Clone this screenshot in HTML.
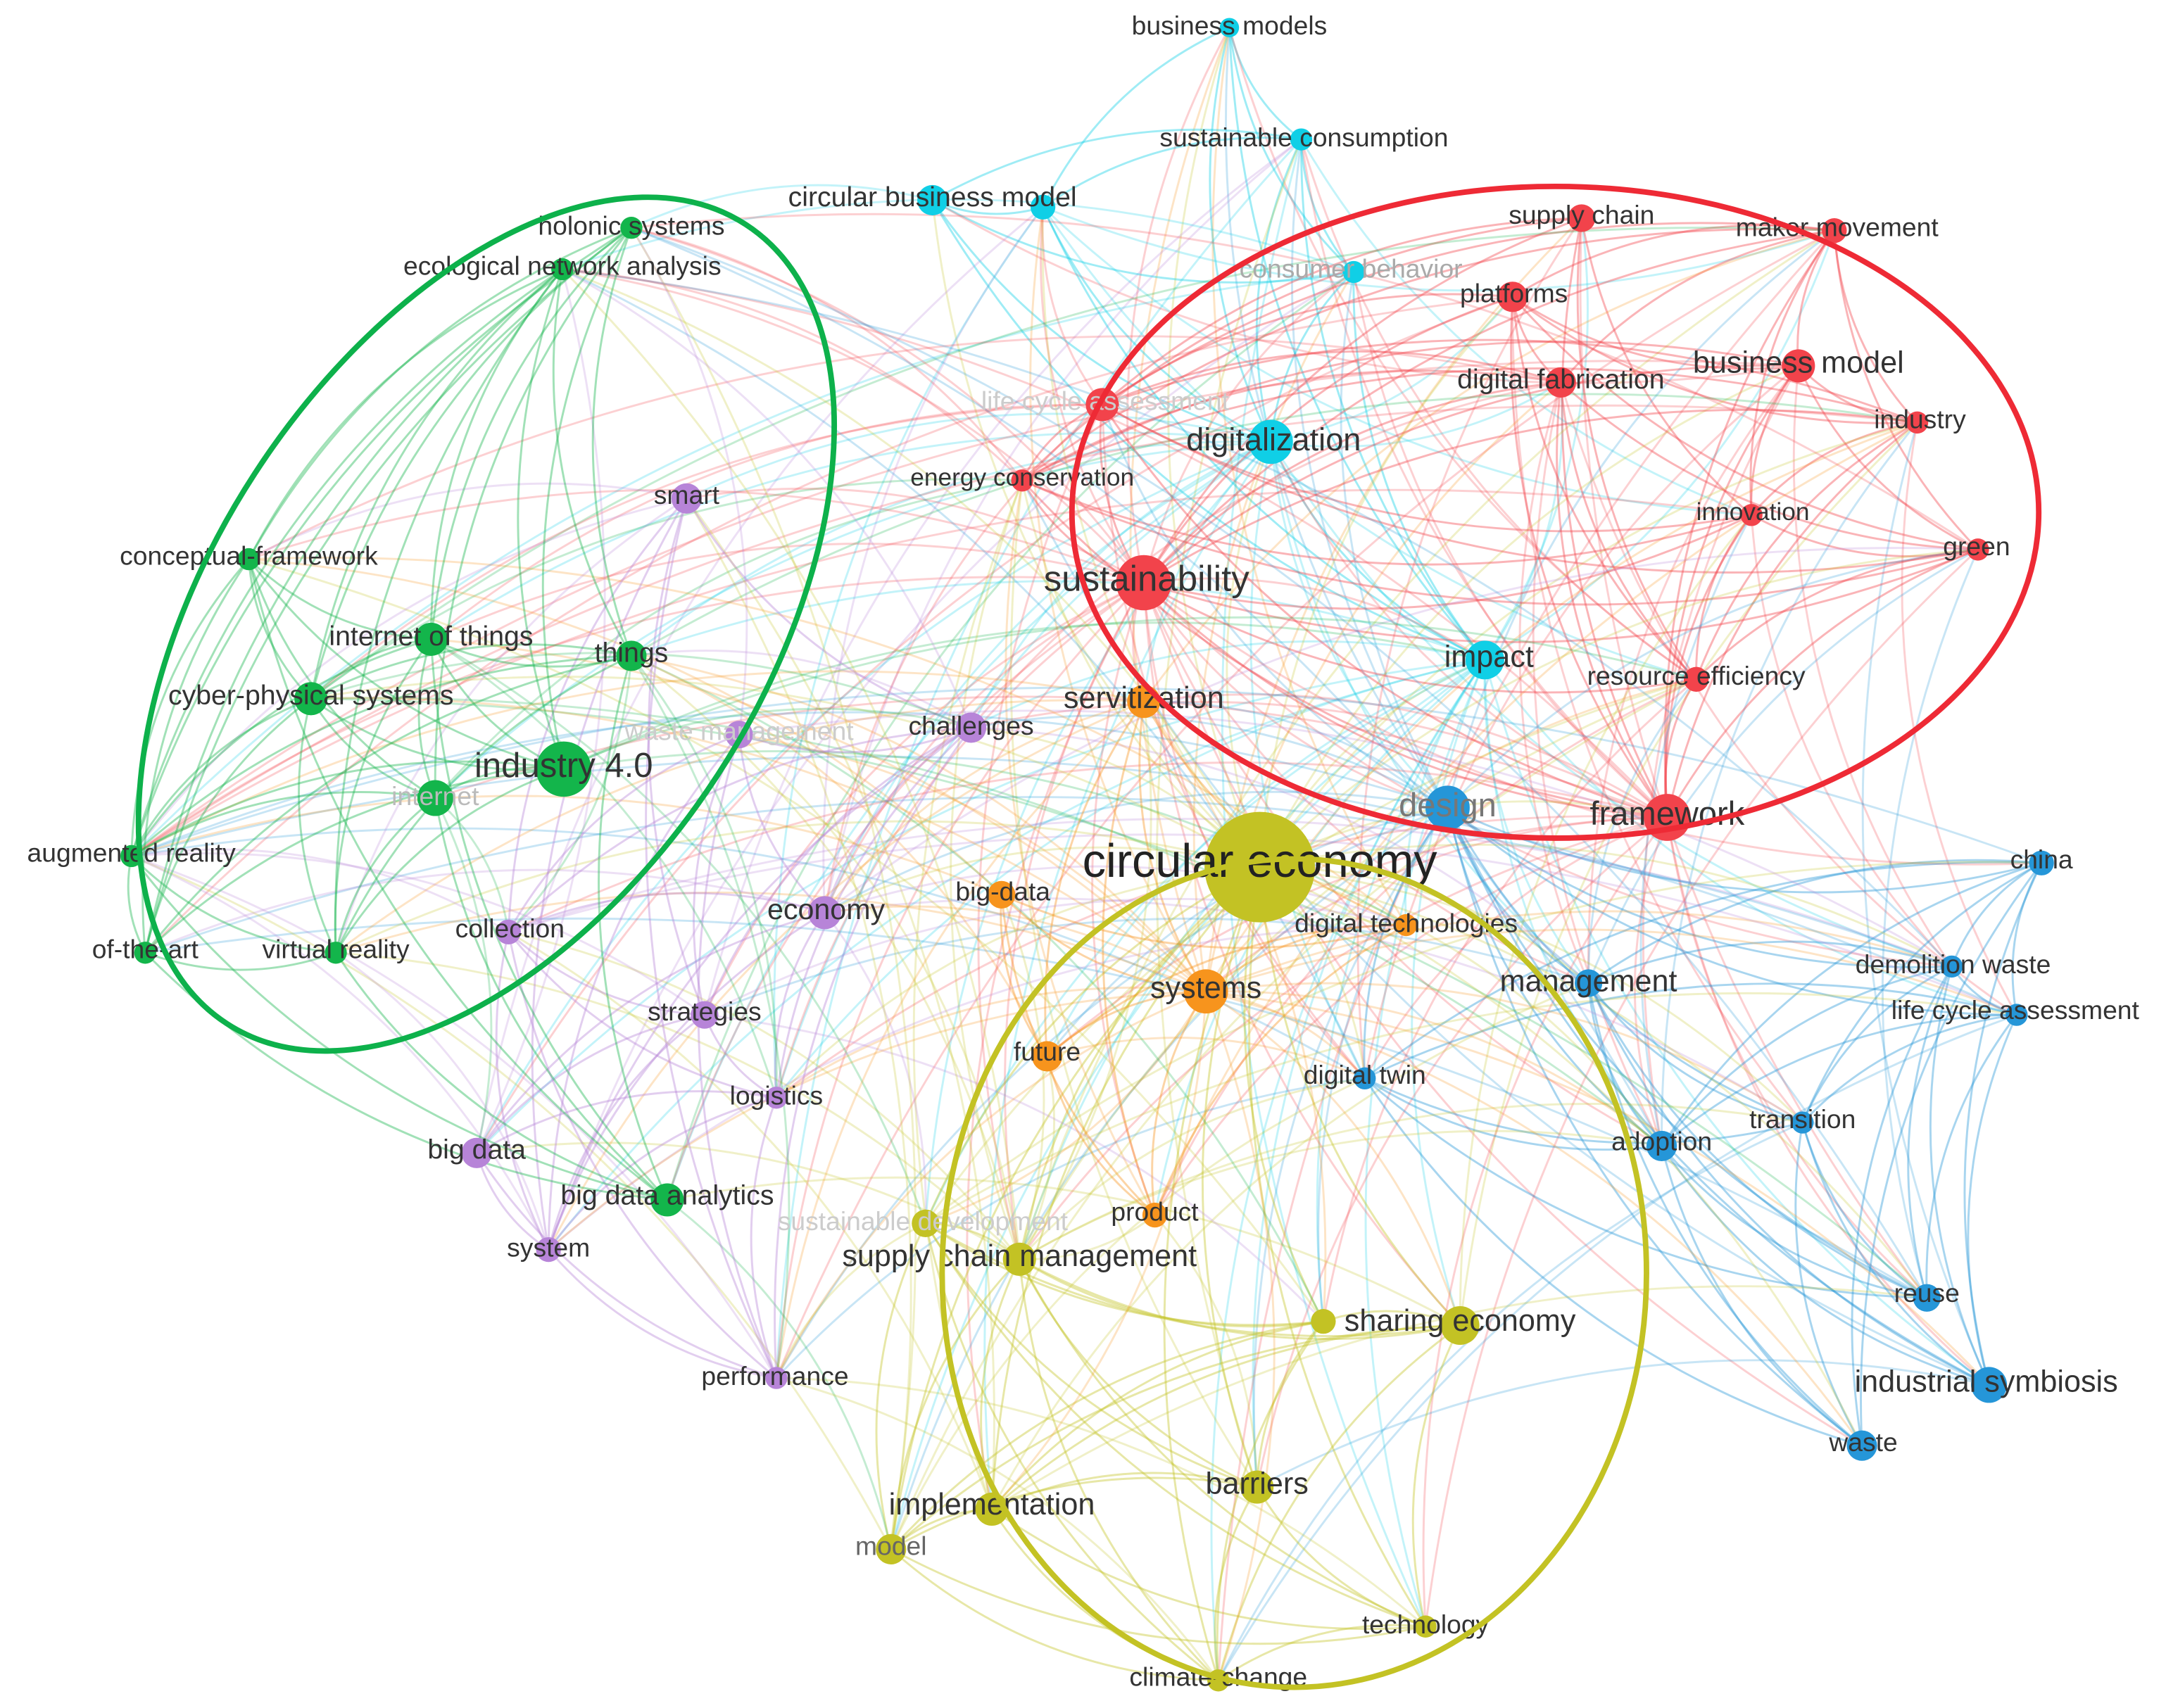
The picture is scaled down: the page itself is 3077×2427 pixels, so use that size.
<!DOCTYPE html>
<html><head><meta charset="utf-8">
<style>
html,body{margin:0;padding:0;background:#fff;}
svg{display:block;}
text{font-family:"Liberation Sans","DejaVu Sans",sans-serif;fill:#333;text-anchor:middle;dominant-baseline:middle;}
</style></head>
<body>
<svg id="s" width="3077" height="2427" viewBox="0 0 1568 1237" xmlns="http://www.w3.org/2000/svg">
<g id="edges" fill="none" stroke-width="1.5"></g>
<g id="nodes"></g>
<g id="labels">
<text x="890" y="20" font-size="19">business models</text>
<text x="944" y="101" font-size="19">sustainable consumption</text>
<text x="675" y="144" font-size="20">circular business model</text>
<text x="978" y="196" font-size="19" style="fill:#aaa">consumer behavior</text>
<text x="922" y="320" font-size="23">digitalization</text>
<text x="1078" y="477" font-size="22">impact</text>
<text x="1145" y="157" font-size="19">supply chain</text>
<text x="1330" y="166" font-size="19">maker movement</text>
<text x="1096" y="214" font-size="19">platforms</text>
<text x="1130" y="276" font-size="20">digital fabrication</text>
<text x="1302" y="264" font-size="22">business model</text>
<text x="1390" y="305" font-size="19">industry</text>
<text x="800" y="292" font-size="19" style="fill:#ccc">life cycle assessment</text>
<text x="740" y="347" font-size="18">energy conservation</text>
<text x="830" y="421" font-size="26">sustainability</text>
<text x="1269" y="372" font-size="18">innovation</text>
<text x="1431" y="397" font-size="19">green</text>
<text x="1228" y="491" font-size="19">resource efficiency</text>
<text x="1207" y="591" font-size="24">framework</text>
<text x="1048" y="585" font-size="24" style="fill:#777">design</text>
<text x="1478" y="624" font-size="19">china</text>
<text x="1414" y="700" font-size="19">demolition waste</text>
<text x="1459" y="733" font-size="19">life cycle assessment</text>
<text x="1150" y="712" font-size="22">management</text>
<text x="988" y="780" font-size="19">digital twin</text>
<text x="1305" y="812" font-size="19">transition</text>
<text x="1203" y="828" font-size="19">adoption</text>
<text x="1395" y="938" font-size="19">reuse</text>
<text x="1438" y="1002" font-size="22">industrial symbiosis</text>
<text x="1349" y="1046" font-size="19">waste</text>
<text x="912" y="626" font-size="34" style="fill:#222">circular economy</text>
<text x="668" y="886" font-size="19" style="fill:#ccc">sustainable development</text>
<text x="738" y="911" font-size="22">supply chain management</text>
<text x="1057" y="958" font-size="22">sharing economy</text>
<text x="910" y="1076" font-size="22">barriers</text>
<text x="718" y="1091" font-size="22">implementation</text>
<text x="645" y="1121" font-size="19" style="fill:#666">model</text>
<text x="1032" y="1178" font-size="19">technology</text>
<text x="882" y="1216" font-size="19">climate-change</text>
<text x="828" y="507" font-size="22">servitization</text>
<text x="726" y="647" font-size="19">big-data</text>
<text x="1018" y="670" font-size="19">digital technologies</text>
<text x="873" y="717" font-size="22">systems</text>
<text x="758" y="763" font-size="19">future</text>
<text x="836" y="879" font-size="19">product</text>
<text x="497" y="360" font-size="19">smart</text>
<text x="535" y="531" font-size="19" style="fill:#ccc">waste management</text>
<text x="703" y="527" font-size="19">challenges</text>
<text x="598" y="660" font-size="21">economy</text>
<text x="369" y="674" font-size="19">collection</text>
<text x="510" y="734" font-size="19">strategies</text>
<text x="562" y="795" font-size="19">logistics</text>
<text x="345" y="834" font-size="20">big data</text>
<text x="397" y="905" font-size="19">system</text>
<text x="561" y="998" font-size="19">performance</text>
<text x="457" y="165" font-size="19">holonic systems</text>
<text x="407" y="194" font-size="19">ecological network analysis</text>
<text x="180" y="404" font-size="19">conceptual-framework</text>
<text x="312" y="462" font-size="20">internet of things</text>
<text x="457" y="474" font-size="20">things</text>
<text x="225" y="505" font-size="20">cyber-physical systems</text>
<text x="408" y="556" font-size="25">industry 4.0</text>
<text x="315" y="578" font-size="19" style="fill:#bbb">internet</text>
<text x="95" y="619" font-size="19">augmented reality</text>
<text x="105" y="689" font-size="19">of-the-art</text>
<text x="243" y="689" font-size="19">virtual reality</text>
<text x="483" y="867" font-size="20">big data analytics</text>
</g>
<g fill="none" stroke-width="4">
<ellipse cx="352" cy="452" rx="200" ry="345" transform="rotate(33 352 452)" stroke="#0db14b"/>
<ellipse cx="1126" cy="371" rx="350" ry="236" stroke="#ee2a35"/>
<ellipse cx="937" cy="922" rx="255" ry="300" stroke="#c3c224"/>
</g>
</svg>
<script>
var C={c:"#10cfe6",r:"#f2434b",b:"#2596d8",y:"#c3c224",o:"#f7941d",p:"#b784d8",g:"#13b54b"};
var N=[
["c",890,20,7],["c",942,101,8],["c",675,145,11],["c",755,150,9],["c",980,197,8],["c",920,320,16],["c",1075,478,14],
["r",1145,158,10],["r",1328,167,9],["r",1095,215,11],["r",1130,277,11],["r",1302,265,12],["r",1388,306,8],["r",798,293,12],["r",740,348,8],["r",828,422,20],["r",1268,373,8],["r",1432,398,8],["r",1228,492,9],["r",1207,592,17],
["b",1048,585,16],["b",1478,625,9],["b",1413,700,8],["b",1460,735,8],["b",1150,712,10],["b",988,781,8],["b",1305,813,8],["b",1203,830,11],["b",1395,940,10],["b",1440,1003,13],["b",1348,1047,11],
["y",912,628,40],["y",738,912,12],["y",670,886,10],["y",1057,960,14],["y",958,957,9],["y",910,1077,12],["y",718,1093,12],["y",645,1122,11],["y",1032,1178,8],["y",882,1217,8],
["o",828,508,12],["o",725,648,10],["o",1018,670,8],["o",873,718,16],["o",758,765,11],["o",836,880,9],
["p",497,361,11],["p",535,532,10],["p",703,527,11],["p",597,661,12],["p",368,675,9],["p",510,735,10],["p",562,795,8],["p",345,835,11],["p",397,905,9],["p",562,998,8],
["g",457,165,8],["g",407,195,8],["g",180,405,8],["g",312,463,12],["g",457,475,11],["g",225,506,12],["g",408,557,20],["g",315,578,13],["g",95,620,8],["g",105,690,8],["g",243,690,8],["g",483,869,12]];
var seed=7;function rnd(){seed=(seed*16807)%2147483647;return seed/2147483647;}
var eg=document.getElementById("edges"),ng=document.getElementById("nodes"),h="";
var big=[31,15,65,5,19,20,6,44,32];
for(var i=0;i<N.length;i++){for(var j=i+1;j<N.length;j++){
 var a=N[i],b=N[j],dx=b[1]-a[1],dy=b[2]-a[2],d=Math.sqrt(dx*dx+dy*dy);
 var p=(a[0]==b[0])?0.75:0.12;
 if(big.indexOf(i)>=0||big.indexOf(j)>=0)p+=0.35;
 if(d>700)p*=0.4;
 if(rnd()<p){
  var src=(a[3]>=b[3])?a:b;
  var mx=(a[1]+b[1])/2,my=(a[2]+b[2])/2,k=0.18;
  var cx=mx-dy*k,cy=my+dx*k;
  h+='<path d="M'+a[1]+' '+a[2]+'Q'+cx.toFixed(1)+' '+cy.toFixed(1)+' '+b[1]+' '+b[2]+'" stroke="'+C[src[0]]+'" stroke-opacity="'+(a[0]==b[0]?0.4:0.25)+'"/>';
 }}}
eg.innerHTML=h;
var hn="";
for(var i=0;i<N.length;i++){hn+='<circle cx="'+N[i][1]+'" cy="'+N[i][2]+'" r="'+N[i][3]+'" fill="'+C[N[i][0]]+'"/>';}
ng.innerHTML=hn;
</script>
</body></html>
